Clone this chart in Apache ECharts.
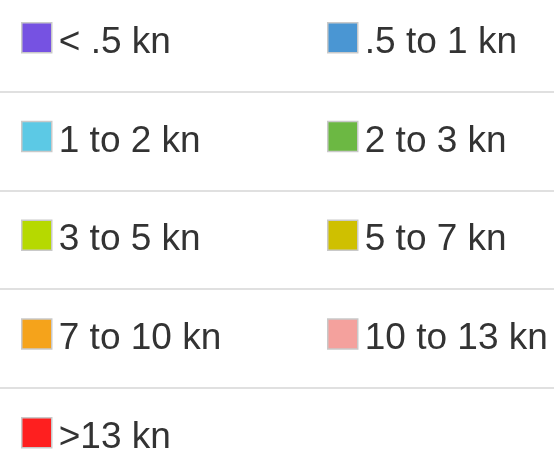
<!DOCTYPE html>
<html>
<head>
<meta charset="utf-8">
<script src="https://cdn.jsdelivr.net/npm/echarts@6/dist/echarts.min.js"></script>
<style>
    html, body { margin: 0; padding: 0; background: #fff; }
    #chart { width: 554px; height: 450px; }
</style>
</head>
<body>
<div id="chart"></div>
<script>
// speed classes, in reading order (left, right, left, right ...)
const speedClasses = ['< .5 kn', '.5 to 1 kn', '1 to 2 kn', '2 to 3 kn', '3 to 5 kn',
    '5 to 7 kn', '7 to 10 kn', '10 to 13 kn', '>13 kn'];
const classColors = ['#7652e2', '#4a96d3', '#5cc9e5', '#6cb843', '#b6d900',
    '#cfc000', '#f5a31b', '#f4a19d', '#fe1f1f'];

const rowTop = 22;      // top of first square
const rowPitch = 98.75; // distance between rows
const boxSize = 30;
const fontSize = 37;
const textDrop = 10;    // labels sit a little below the square's middle
const itemHeightSeen = 39.25; // height echarts gives one legend entry with that label

let myChart = echarts.init(document.getElementById('chart'));

const leftNames = speedClasses.filter((n, i) => i % 2 === 0);
const rightNames = speedClasses.filter((n, i) => i % 2 === 1);

function makeLegend(names, left) {
    return {
        orient: 'vertical',
        left: left,
        top: rowTop,
        height: 600,   // last row runs past the bottom edge, don't let it wrap
        padding: 0,
        data: names,
        icon: 'rect',
        itemWidth: boxSize,
        itemHeight: boxSize,
        itemGap: rowPitch - itemHeightSeen,
        selectedMode: false,
        itemStyle: {
            borderColor: '#c9c9c9',
            borderWidth: 1.5
        },
        formatter: '{t|{name}}',
        textStyle: {
            color: '#333',
            rich: {
                t: {
                    fontFamily: 'Liberation Sans, Arial, sans-serif',
                    fontSize: fontSize,
                    color: '#333',
                    padding: [textDrop, 0, 0, 2]
                }
            }
        }
    };
}

// faint rules between the rows
const separators = [];
for (let i = 1; i < Math.ceil(speedClasses.length / 2); i++) {
    const y = Math.round(rowTop + i * rowPitch - 29);
    separators.push({
        type: 'line',
        shape: { x1: 0, y1: y, x2: 554, y2: y },
        style: { stroke: '#e0e0e0', lineWidth: 2 }
    });
}

const option = {
    animation: false,
    grid: { show: false },
    xAxis: { type: 'category', show: false, data: [] },
    yAxis: { type: 'value', show: false },
    legend: [makeLegend(leftNames, 21), makeLegend(rightNames, 327)],
    graphic: separators,
    series: speedClasses.map((name, i) => ({
        name: name,
        type: 'bar',
        data: [],
        itemStyle: { color: classColors[i] }
    }))
};
myChart.setOption(option);
</script>
</body>
</html>
